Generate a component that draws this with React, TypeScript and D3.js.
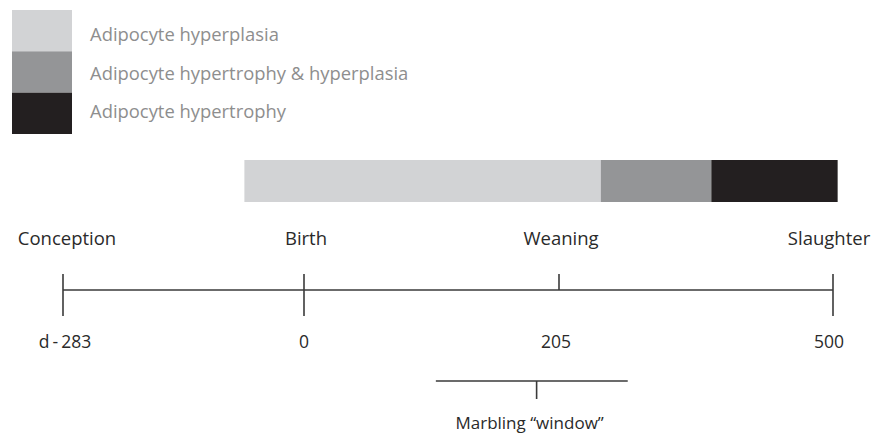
import React from 'react';
import * as d3 from 'd3';

// legend / phases of fat cell growth
const phaseNames = ['Adipocyte hyperplasia', 'Adipocyte hypertrophy & hyperplasia', 'Adipocyte hypertrophy'];
const phaseColors = ['#d2d3d5', '#949597', '#231f20'];
const phaseStart = [-70, 250, 369];
const phaseEnd = [250, 369, 505];

// timeline events (days relative to birth)
const eventNames = ['Conception', 'Birth', 'Weaning', 'Slaughter'];
const eventDays = [-283, 0, 205, 500];
const eventLabels = ['d - 283', '0', '205', '500'];
const tickBelow = [true, true, false, true];

// marbling window (days)
const marblingRange = [106, 279];
const marblingMark = 187;

const W = 875;
const H = 441;
const FONT = '"Open Sans", sans-serif';

const App: React.FC = () => {
  // piecewise scale: events are not spaced linearly in the figure
  const x = d3.scaleLinear().domain(eventDays).range([63, 304, 559, 833]);
  const legendY = d3.scaleBand<number>().domain(d3.range(phaseNames.length)).range([10, 134]).padding(0);
  const legendTextY = d3.scalePoint<number>().domain(d3.range(phaseNames.length)).range([41, 118]);

  const lineY = 290;
  const barTop = 160;
  const barH = 42;
  const mY = 381;

  return (
    <svg width={W} height={H} style={{ position: 'absolute', left: 0, top: 0, background: '#fff' }}>
      {/* legend */}
      <g>
        {phaseNames.map((name, i) => (
          <g key={name}>
            <rect x={12} y={legendY(i)} width={60} height={legendY.bandwidth()} fill={phaseColors[i]} />
            <text x={90} y={legendTextY(i)} fontFamily={FONT} fontSize={18.4} fill="#8e8e8e">{name}</text>
          </g>
        ))}
      </g>

      {/* stacked phase bar */}
      <g>
        {phaseNames.map((name, i) => (
          <rect key={name} x={x(phaseStart[i])} y={barTop} width={x(phaseEnd[i]) - x(phaseStart[i])}
            height={barH} fill={phaseColors[i]} />
        ))}
      </g>

      {/* timeline */}
      <g stroke="#3a3a3a" strokeWidth={1.6}>
        <line x1={x(eventDays[0])} x2={x(eventDays[eventDays.length - 1])} y1={lineY} y2={lineY} />
        {eventDays.map((d, i) => (
          <line key={d} x1={x(d)} x2={x(d)} y1={lineY - 16} y2={tickBelow[i] ? lineY + 26 : lineY} />
        ))}
      </g>
      <g fontFamily={FONT} fill="#2a2a2a" textAnchor="middle">
        {eventNames.map((name, i) => (
          <text key={name} x={x(eventDays[i]) + (i === 0 ? 4 : i === 3 ? -4 : 2)} y={245} fontSize={18.5}>{name}</text>
        ))}
        {eventLabels.map((lab, i) => (
          <text key={lab} x={x(eventDays[i]) + (i === 0 ? 2 : i === 2 ? -3 : i === 3 ? -4 : 0)} y={348}
            fontSize={17.5} wordSpacing={-1.5}>{lab}</text>
        ))}
      </g>

      {/* marbling window */}
      <g stroke="#3a3a3a" strokeWidth={1.6}>
        <line x1={x(marblingRange[0])} x2={x(marblingRange[1])} y1={mY} y2={mY} />
        <line x1={x(marblingMark)} x2={x(marblingMark)} y1={mY} y2={mY + 18} />
      </g>
      <text x={x(marblingMark) - 7} y={429} fontFamily={FONT} fontSize={17} fill="#2a2a2a" textAnchor="middle">
        Marbling “window”
      </text>
    </svg>
  );
};

export default App;
